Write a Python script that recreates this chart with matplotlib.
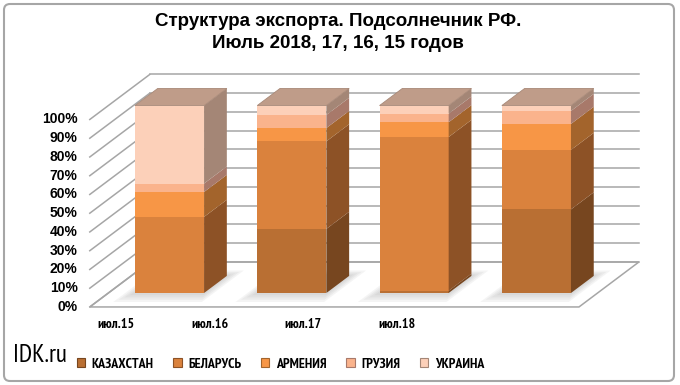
import matplotlib.pyplot as plt
from matplotlib.patches import Polygon, Patch, FancyBboxPatch
from matplotlib.transforms import IdentityTransform

# data (shares of export, %)
months = ['июл.15', 'июл.16', 'июл.17', 'июл.18']
countries = ['КАЗАХСТАН', 'БЕЛАРУСЬ', 'АРМЕНИЯ', 'ГРУЗИЯ', 'УКРАИНА']
kazakhstan = [0.0, 34.2, 1.2, 44.6]
belarus = [40.6, 46.7, 82.0, 31.7]
armenia = [13.3, 7.1, 7.9, 13.9]
georgia = [4.5, 7.0, 4.6, 6.9]
ukraine = [41.6, 5.0, 4.3, 2.9]

front_colors = ['#B96F33', '#DA823D', '#F79646', '#FAB38C', '#FCD0B9']
side_colors = ['#77461F', '#8D5226', '#A3642C', '#A8796A', '#A48676']
top_color = '#BF9C89'
grid_color = '#A6A6A6'

plt.rcParams['font.family'] = ['Liberation Sans', 'DejaVu Sans']
NARROW = ['PT Sans Narrow', 'Liberation Sans', 'DejaVu Sans']

# pseudo 3d geometry (depth vector in data units)
DX, DY = 0.49, 24.0
T_FRONT, T_BACK, T_BAR = -0.31, 0.69, 0.38
W = 0.565
X0, X1 = -0.5, 3.5


def shift(x, y, t):
    return x + t * DX, y + t * DY


fig = plt.figure(figsize=(6.8, 3.85), dpi=100)
ax = fig.add_axes([0, 0, 1, 1])
ax.set_xlim(-1.386, 4.174)
ax.set_ylim(-49.07, 156.3)
ax.axis('off')

# floor
floor = [shift(X0, 0, T_FRONT), shift(X1, 0, T_FRONT),
         shift(X1, 0, T_BACK), shift(X0, 0, T_BACK)]
ax.add_patch(Polygon(floor, closed=True, facecolor='white',
                     edgecolor=grid_color, lw=1.1, zorder=1))

# walls gridlines
for p in range(0, 101, 10):
    a = shift(X0, p, T_FRONT)
    b = shift(X0, p, T_BACK)
    c = shift(X1, p, T_BACK)
    ax.plot([a[0], b[0]], [a[1], b[1]], color=grid_color, lw=1.1, zorder=1)
    ax.plot([b[0], c[0]], [b[1], c[1]], color=grid_color, lw=1.1, zorder=1)
    ax.text(a[0] - 0.1, a[1], f'{p}%', ha='right', va='center',
            fontsize=10, fontweight='bold')

series = [kazakhstan, belarus, armenia, georgia, ukraine]
dx, dy = T_BAR * DX, T_BAR * DY

for i in range(len(months)):
    # soft shadow on the floor
    for k in range(4):
        e = 0.02 + 0.02 * k
        et = 0.05 + 0.05 * k
        fp = [shift(i - W / 2 - e, 0, -et), shift(i + W / 2 + e, 0, -et),
              shift(i + W / 2 + e, 0, T_BAR + et * 0.6),
              shift(i - W / 2 - e, 0, T_BAR + et * 0.6)]
        ax.add_patch(Polygon(fp, closed=True, facecolor='#707070',
                             edgecolor='none', alpha=0.07, zorder=2))

    total = sum(s[i] for s in series)
    bottom = 0.0
    for k, s in enumerate(series):
        h = s[i] * 100.0 / total
        if h <= 0:
            continue
        ax.bar(i, h, bottom=bottom, width=W, color=front_colors[k],
               edgecolor='none', zorder=4)
        xr = i + W / 2
        side = [(xr, bottom), (xr + dx, bottom + dy),
                (xr + dx, bottom + h + dy), (xr, bottom + h)]
        ax.add_patch(Polygon(side, closed=True, facecolor=side_colors[k],
                             edgecolor='none', zorder=4))
        bottom += h
    top = [(i - W / 2, bottom), (i + W / 2, bottom),
           (i + W / 2 + dx, bottom + dy), (i - W / 2 + dx, bottom + dy)]
    ax.add_patch(Polygon(top, closed=True, facecolor=top_color,
                         edgecolor='#A88978', lw=0.6, zorder=5))

# category labels
for i, m in enumerate(months):
    ax.text(-0.437 + 0.765 * i, -17.0, m, ha='center', va='center',
            fontsize=10, fontweight='bold', family=NARROW)

fig.text(0.497, 1 - 22 / 385, 'Структура экспорта. Подсолнечник РФ.',
         ha='center', va='center', fontsize=13.5, fontweight='bold')
fig.text(0.497, 1 - 43 / 385, 'Июль 2018, 17, 16, 15 годов',
         ha='center', va='center', fontsize=13.5, fontweight='bold')

fig.text(13 / 680, 1 - 355 / 385, 'IDK.ru', ha='left', va='center',
         fontsize=18, family=NARROW)

handles = [Patch(facecolor=c, edgecolor=sc, lw=0.8)
           for c, sc in zip(front_colors, side_colors)]
fig.legend(handles, countries, loc='center left',
           bbox_to_anchor=(64 / 680, 1 - 364 / 385), ncol=5, frameon=False,
           handlelength=0.6, handleheight=0.6, handletextpad=0.5,
           columnspacing=1.4, borderpad=0.4,
           prop={'family': NARROW, 'weight': 'bold', 'size': 10})

fig.add_artist(FancyBboxPatch((4, 4), 670, 377,
                              boxstyle='round,pad=0,rounding_size=6',
                              transform=IdentityTransform(),
                              facecolor='none', edgecolor='#A6A6A6', lw=1.5))

fig.savefig('out.png', dpi=100)
